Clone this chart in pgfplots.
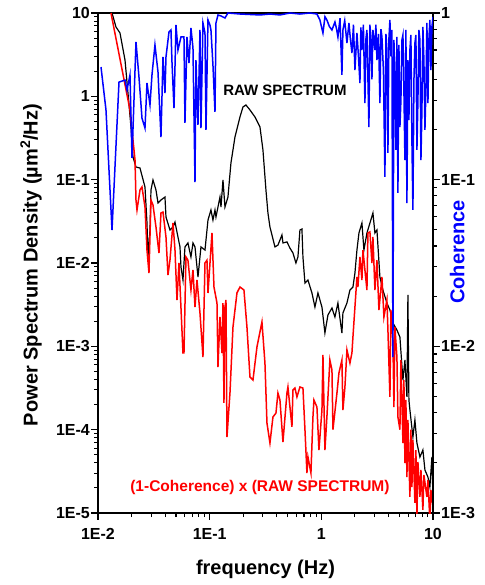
\documentclass[border=0pt]{standalone}
\usepackage{fontspec}
\setmainfont{Liberation Sans}
\usepackage{pgfplots}
\pgfplotsset{compat=1.18}

\begin{document}
\begin{tikzpicture}
\useasboundingbox (-98pt,-72pt) rectangle (386pt,513pt);
\begin{axis}[
  scale only axis, width=335pt, height=500pt,
  xmode=log, ymode=log,
  xmin=0.01, xmax=10, ymin=1e-5, ymax=10,
  axis line style={line width=1.4pt},
  tick align=outside, xtick pos=left, ytick pos=left,
  xtick={0.01,0.1,1,10}, xticklabels={1E-2,1E-1,1,10},
  minor xtick={0.02,0.03,0.04,0.05,0.06,0.07,0.08,0.09,0.2,0.3,0.4,0.5,0.6,0.7,0.8,0.9,2,3,4,5,6,7,8,9},
  ytick={1e-5,1e-4,1e-3,1e-2,1e-1,1,10},
  yticklabels={1E-5,1E-4,1E-3,1E-2,1E-1,1,10},
  minor ytick={2e-5,3e-5,4e-5,5e-5,6e-5,7e-5,8e-5,9e-5,2e-4,3e-4,4e-4,5e-4,6e-4,7e-4,8e-4,9e-4,
    2e-3,3e-3,4e-3,5e-3,6e-3,7e-3,8e-3,9e-3,0.02,0.03,0.04,0.05,0.06,0.07,0.08,0.09,
    0.2,0.3,0.4,0.5,0.6,0.7,0.8,0.9,2,3,4,5,6,7,8,9},
  major tick length=7pt, minor tick length=4pt,
  every tick/.style={black, line width=1.1pt},
  ticklabel style={font=\fontsize{16}{16}\selectfont\bfseries},
  xticklabel style={yshift=-5pt},
  yticklabel style={inner sep=1pt},
  xlabel={frequency (Hz)},
  ylabel={Power Spectrum Density (µm\textsuperscript{2}/Hz)},
  xlabel style={at={(axis description cs:0.5,-0.112)}, anchor=center, font=\fontsize{20}{20}\selectfont\bfseries},
  ylabel style={at={(axis description cs:-0.2,0.496)}, anchor=center, font=\fontsize{20}{20}\selectfont\bfseries},
]
\addplot[black, line width=1.2pt] coordinates {
(0.01335,10) (0.01449,6.79) (0.01574,5.75) (0.01745,2.73) (0.01856,1.096)
(0.01974,0.4285) (0.02058,0.187) (0.02189,0.1419) (0.02377,0.138) (0.02635,0.0817)
(0.02746,0.0302) (0.02803,0.0118) (0.02921,0.0249) (0.02982,0.0752) (0.03108,0.0991)
(0.03306,0.0752) (0.03446,0.0525) (0.03664,0.0570) (0.0398,0.0619) (0.04063,0.0356)
(0.04412,0.0249) (0.04694,0.0270) (0.04892,0.0310) (0.05202,0.0205) (0.05422,0.0156)
(0.05535,0.00895) (0.05768,0.00625) (0.0601,0.0156) (0.0639,0.0174) (0.068,0.0118)
(0.0709,0.0174) (0.0739,0.0156) (0.0786,0.00679) (0.0836,0.0156) (0.0908,0.0143)
(0.0966,0.0328) (0.1027,0.0433) (0.1070,0.0328) (0.1116,0.0433) (0.1139,0.0356)
(0.1237,0.0619) (0.1263,0.0470) (0.1316,0.0991) (0.1371,0.0470) (0.1458,0.0619)
(0.1551,0.1585) (0.1685,0.325) (0.1868,0.565) (0.1987,0.745) (0.2113,0.787)
(0.2296,0.686) (0.2545,0.565) (0.2822,0.4285) (0.3001,0.227) (0.3192,0.0752)
(0.3327,0.0398) (0.3467,0.0270) (0.3845,0.0156) (0.4088,0.0164) (0.4440,0.0217)
(0.4533,0.0174) (0.4922,0.0179) (0.5236,0.0151) (0.5569,0.0132) (0.5924,0.0100)
(0.6173,0.0118) (0.6434,0.0249) (0.6705,0.0256) (0.6845,0.0118) (0.7135,0.00575)
(0.7589,0.00625) (0.8241,0.00437) (0.8766,0.00296) (0.9326,0.00437) (1.013,0.00296)
(1.077,0.001445) (1.146,0.002377) (1.245,0.002884) (1.324,0.00225) (1.408,0.00331)
(1.529,0.001445) (1.561,0.00251) (1.696,0.00331) (1.804,0.00474) (1.919,0.00515)
(2.0,0.00759) (2.084,0.0143) (2.172,0.0229) (2.31,0.0302) (2.407,0.0143)
(2.561,0.0229) (2.724,0.0302) (2.898,0.0398) (3.02,0.0229) (3.148,0.0249)
(3.347,0.00679) (3.561,0.00474) (3.867,0.00331) (4.114,0.00273) (4.376,0.00191)
(4.753,0.00157) (5.056,0.00129) (5.38,0.000394) (5.606,0.000685) (5.84,0.000247)
(5.963,0.00413) (6.087,0.000227) (6.214,0.000172) (6.61,8.17e-5) (6.89,0.000131)
(7.18,6.92e-5) (7.64,4.70e-5) (8.12,5.70e-5) (8.47,3.28e-5) (9.01,2.70e-5)
(9.38,2.05e-5) (9.78,4.70e-5) (10,1.43e-5)
};
\addplot[red, line width=1.5pt] coordinates {
(0.01307,10) (0.01934,0.686) (0.02058,0.299) (0.02145,0.172) (0.02189,0.0570)
(0.02235,0.0433) (0.02377,0.0752) (0.02477,0.0817) (0.02635,0.0470) (0.02746,0.0143)
(0.02861,0.00759) (0.02982,0.0570) (0.03108,0.0497) (0.03306,0.0270) (0.03517,0.0132)
(0.03664,0.0398) (0.0382,0.0409) (0.04063,0.0205) (0.04234,0.00718) (0.04412,0.01086)
(0.04694,0.0302) (0.04892,0.0143) (0.05099,0.0036) (0.05312,0.0100) (0.05768,0.000832)
(0.05888,0.000832) (0.06136,0.0118) (0.0639,0.0108) (0.068,0.00474) (0.0709,0.00824)
(0.0739,0.00296) (0.0770,0.00625) (0.0819,0.00251) (0.0871,0.000745) (0.0908,0.0100)
(0.0946,0.0108) (0.0966,0.00437) (0.1049,0.0229) (0.1093,0.00515) (0.1163,0.00331)
(0.1187,0.000565) (0.1237,0.00225) (0.1289,0.000832) (0.1316,0.00331) (0.1343,0.000209)
(0.1371,0.00296) (0.1400,0.0036) (0.1429,8.17e-5) (0.1520,0.000275) (0.1617,0.0017)
(0.1756,0.00437) (0.1868,0.00515) (0.2028,0.00474) (0.2158,0.0017) (0.2296,0.000429)
(0.2442,0.000394) (0.2652,0.000982) (0.2940,0.00196) (0.3127,0.000631) (0.3260,0.00012)
(0.3467,6.92e-5) (0.3689,0.000142) (0.3923,0.000158) (0.4088,0.000275) (0.4260,0.000227)
(0.4533,7.11e-5) (0.4922,0.000275) (0.5023,0.000325) (0.5457,0.000108) (0.5569,0.000299)
(0.5802,0.000316) (0.6049,0.000247) (0.6434,0.000325) (0.6845,0.000316) (0.7135,0.0001)
(0.7432,3.02e-5) (0.7589,4.70e-5) (0.8072,3.02e-5) (0.8413,0.000142) (0.8586,0.000227)
(0.9135,0.000187) (0.9520,5.70e-5) (1.013,0.000172) (1.034,0.000787) (1.077,5.70e-5)
(1.122,0.000142) (1.193,0.000685) (1.245,0.00052) (1.271,0.0001) (1.380,0.000275)
(1.438,0.000479) (1.529,0.000685) (1.561,0.000172) (1.627,0.000325) (1.696,0.000904)
(1.804,0.000631) (1.880,0.000832) (1.919,0.00129) (2.084,0.00679) (2.127,0.00515)
(2.217,0.0118) (2.31,0.00625) (2.358,0.0143) (2.561,0.00474) (2.614,0.0229)
(2.724,0.0236) (2.839,0.0100) (2.898,0.0205) (3.02,0.00474) (3.148,0.0108)
(3.28,0.00273) (3.49,0.00679) (3.636,0.00225) (3.867,0.0036) (3.949,0.00157)
(4.114,0.000247) (4.199,0.00273) (4.376,0.00119) (4.468,0.000187) (4.56,0.0017)
(4.753,0.000745) (4.852,0.000142) (5.056,0.0001) (5.162,0.000685) (5.38,6.92e-5)
(5.49,0.000394) (5.606,3.98e-5) (5.72,0.000227) (5.84,2.70e-5) (5.963,0.000131)
(6.214,1.56e-5) (6.34,0.0001) (6.475,2.05e-5) (6.61,7.52e-5) (6.89,1.32e-5)
(7.03,5.70e-5) (7.18,9e-6) (7.33,4.09e-5) (7.64,1.56e-5) (7.80,3.28e-5)
(8.12,1.09e-5) (8.29,2.86e-5) (8.82,1.56e-5) (9.01,2.49e-5) (9.38,8e-6)
(9.58,1.89e-5) (10,1.2e-5)
};
\node[font=\fontsize{15}{15}\selectfont\bfseries] at (axis cs:0.472,1.19) {RAW SPECTRUM};
\node[red, font=\fontsize{15.5}{15.5}\selectfont\bfseries] at (axis cs:0.282,2.0e-5) {(1-Coherence) x (RAW SPECTRUM)};
\end{axis}
\begin{axis}[
  scale only axis, width=335pt, height=500pt,
  xmode=log, ymode=log,
  xmin=0.01, xmax=10, ymin=1e-3, ymax=1,
  axis x line=none, axis y line*=right,
  axis line style={line width=1.4pt},
  tick align=outside,
  ytick={1e-3,1e-2,1e-1,1}, yticklabels={1E-3,1E-2,1E-1,1},
  minor ytick={2e-3,3e-3,4e-3,5e-3,6e-3,7e-3,8e-3,9e-3,0.02,0.03,0.04,0.05,0.06,0.07,0.08,0.09,
    0.2,0.3,0.4,0.5,0.6,0.7,0.8,0.9},
  major tick length=7pt, minor tick length=4pt,
  every tick/.style={black, line width=1.1pt},
  ticklabel style={font=\fontsize{16}{16}\selectfont\bfseries},
  yticklabel style={inner sep=1pt},
  ylabel={Coherence},
  ylabel style={blue, at={(axis description cs:1.072,0.522)}, anchor=center, font=\fontsize{20}{20}\selectfont\bfseries},
]
\addplot[blue, line width=1.5pt] coordinates {
(0.01064,0.474) (0.01179,0.262) (0.01335,0.0499) (0.01542,0.385) (0.01745,0.396)
(0.01818,0.345) (0.01934,0.425) (0.02016,0.135) (0.02189,0.67) (0.02328,0.413)
(0.02477,0.234) (0.02635,0.204) (0.02746,0.38) (0.02921,0.281) (0.03044,0.425)
(0.03237,0.643) (0.03446,0.443) (0.03664,0.180) (0.0382,0.545) (0.0398,0.331)
(0.04063,0.545) (0.04322,0.769) (0.04504,0.791) (0.04598,0.508) (0.04792,0.269)
(0.04994,0.847) (0.05202,0.60) (0.05535,0.718) (0.05888,0.718) (0.0601,0.219)
(0.06264,0.718) (0.06527,0.501) (0.068,0.813) (0.0709,0.617) (0.0739,0.0968)
(0.0754,0.522) (0.0786,0.213) (0.0819,0.791) (0.0836,0.204) (0.0871,0.871)
(0.0908,0.759) (0.0927,0.199) (0.0966,0.908) (0.1006,0.847) (0.1027,0.791)
(0.1070,0.488) (0.1116,0.255) (0.1139,0.871) (0.1187,0.973) (0.1263,0.96)
(0.1371,0.933) (0.1458,1.0) (0.1868,0.986) (0.2822,0.973) (0.3467,0.986)
(0.426,0.973) (0.524,1.0) (0.643,0.986) (0.790,1.0) (0.9135,0.986)
(0.971,0.908) (1.034,0.759) (1.078,0.95) (1.122,0.908) (1.18,0.83) (1.245,0.791)
(1.324,0.883) (1.37,0.80) (1.408,0.718) (1.47,0.93) (1.529,0.425) (1.561,0.791)
(1.62,0.90) (1.696,0.661) (1.767,0.871) (1.82,0.70) (1.880,0.575) (1.94,0.85)
(2.0,0.455) (2.084,0.759) (2.15,0.55) (2.217,0.38) (2.26,0.82) (2.31,0.60)
(2.38,0.85) (2.457,0.288) (2.51,0.70) (2.561,0.791) (2.668,0.207) (2.72,0.85)
(2.781,0.718) (2.84,0.40) (2.898,0.791) (3.02,0.60) (3.08,0.85) (3.148,0.522)
(3.25,0.75) (3.347,0.288) (3.42,0.80) (3.49,0.718) (3.60,0.45) (3.711,0.104)
(3.79,0.75) (3.867,0.60) (3.949,0.145) (4.03,0.70) (4.114,0.908) (4.2,0.55)
(4.287,0.791) (4.376,0.00863) (4.468,0.689)
(4.56,0.413) (4.656,0.151) (4.753,0.718) (4.852,0.0832) (4.953,0.643)
(5.056,0.207) (5.162,0.30) (5.27,0.689) (5.38,0.738) (5.49,0.345)
(5.606,0.131) (5.72,0.791) (5.84,0.0724) (5.963,0.522) (6.087,0.228)
(6.214,0.60) (6.34,0.738) (6.475,0.173) (6.61,0.0658) (6.75,0.396)
(6.89,0.661) (7.03,0.738) (7.18,0.151) (7.33,0.30) (7.48,0.791)
(7.64,0.689) (7.80,0.131) (7.96,0.262) (8.12,0.824) (8.29,0.522)
(8.47,0.199) (8.64,0.345) (8.82,0.871) (9.01,0.288) (9.19,0.689)
(9.38,0.908) (9.58,0.455) (9.78,0.824) (10,0.946)
};
\end{axis}
\end{tikzpicture}
\end{document}
